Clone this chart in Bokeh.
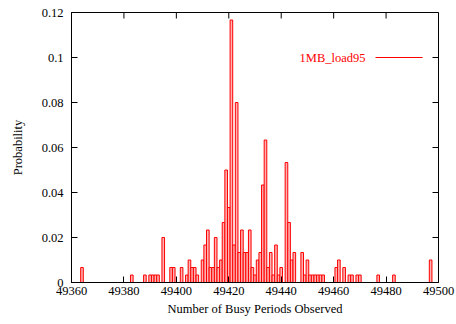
from bokeh.plotting import figure
from bokeh.models import (Range1d, SingleIntervalTicker, CustomJSTickFormatter,
                          Label, BoxAnnotation, ColumnDataSource)
from bokeh.embed import file_html
from bokeh.resources import INLINE

# Observed busy-period counts and how many runs gave each count
busy_periods = [49364, 49383, 49388, 49390, 49391, 49392, 49393, 49395,
                49398, 49399, 49402, 49404, 49405, 49406, 49407, 49408,
                49410, 49411, 49412, 49413, 49414, 49415, 49416, 49417,
                49418, 49419, 49420, 49421, 49422, 49423, 49424, 49425,
                49426, 49427, 49428, 49429, 49430, 49431, 49432, 49433,
                49434, 49435, 49436, 49437, 49438, 49439, 49440, 49442,
                49443, 49444, 49445, 49448, 49449, 49450, 49451, 49452,
                49453, 49454, 49455, 49456, 49461, 49462, 49464, 49466,
                49467, 49469, 49470, 49477, 49483, 49497]
runs = [2, 1, 1, 1, 1, 1, 1, 6,
        2, 2, 2, 1, 3, 2, 2, 1,
        3, 5, 7, 2, 2, 6, 2, 3,
        8, 15, 10, 35, 5, 24, 4, 7,
        4, 4, 7, 2, 1, 3, 4, 13,
        19, 2, 4, 1, 5, 1, 2, 16,
        8, 3, 4, 4, 1, 3, 1, 1,
        1, 1, 1, 1, 2, 3, 2, 1,
        1, 1, 1, 1, 1, 3]
total_runs = 300
series_name = "1MB_load95"

x_ticks = [49360, 49380, 49400, 49420, 49440, 49460, 49480, 49500]
y_ticks = [0, 0.02, 0.04, 0.06, 0.08, 0.1, 0.12]

# every bin between the smallest and largest observation, empty ones at zero
lookup = dict(zip(busy_periods, runs))
bins = list(range(min(busy_periods), max(busy_periods) + 1))
prob = [lookup.get(b, 0) / total_runs for b in bins]
src = ColumnDataSource(dict(
    left=[b - 0.5 for b in bins], right=[b + 0.5 for b in bins],
    top=prob, bottom=[0] * len(bins)))

FONT = "Liberation Serif"
W, H = 456, 324
BL, BR, BT, BB = 71, 18, 12, 42
TICK = 6

p = figure(width=W, height=H, output_backend="svg", toolbar_location=None,
           x_range=Range1d(x_ticks[0], x_ticks[-1]),
           y_range=Range1d(y_ticks[0], y_ticks[-1]),
           x_axis_label="Number of Busy Periods Observed",
           y_axis_label="Probability",
           min_border_left=BL, min_border_right=BR,
           min_border_top=BT, min_border_bottom=BB)
p.grid.visible = False
p.background_fill_color = "white"
p.border_fill_color = "white"
p.outline_line_color = "black"
p.outline_line_width = 1

p.quad(left="left", right="right", top="top", bottom="bottom", source=src,
       fill_color="#ffb0b0", line_color="#ff0000", line_width=1)

p.xaxis.ticker = SingleIntervalTicker(interval=20)
p.yaxis.ticker = SingleIntervalTicker(interval=0.02)
p.yaxis.formatter = CustomJSTickFormatter(
    code="return String(parseFloat(tick.toFixed(4)));")

for ax in (p.xaxis[0], p.yaxis[0]):
    ax.major_tick_in = TICK
    ax.major_tick_out = 0
    ax.minor_tick_in = 0
    ax.minor_tick_out = 0
    ax.axis_line_color = "black"
    ax.major_tick_line_color = "black"
    ax.major_label_text_font = FONT
    ax.major_label_text_font_size = "12.5px"
    ax.major_label_text_color = "black"
    ax.axis_label_text_font = FONT
    ax.axis_label_text_font_size = "12.5px"
    ax.axis_label_text_font_style = "normal"
    ax.axis_label_text_color = "black"
p.xaxis.major_label_standoff = 4
p.yaxis.major_label_standoff = 8
p.xaxis.axis_label_standoff = 4
p.yaxis.axis_label_standoff = 14

# mirrored inward tick marks along the top and right borders
x0, x1 = x_ticks[0], x_ticks[-1]
y0, y1 = y_ticks[0], y_ticks[-1]
dx = (x1 - x0) * TICK / (W - BL - BR)
dy = (y1 - y0) * TICK / (H - BT - BB)
p.segment(x0=x_ticks, x1=x_ticks, y0=[y1] * len(x_ticks),
          y1=[y1 - dy] * len(x_ticks), line_color="black", line_width=1)
p.segment(x0=[x1] * len(y_ticks), x1=[x1 - dx] * len(y_ticks),
          y0=y_ticks, y1=y_ticks, line_color="black", line_width=1)

# key: series name followed by a line sample
p.add_layout(Label(x=294, y=225, x_units="screen", y_units="screen",
                   text=series_name, text_align="right",
                   text_baseline="middle", text_font=FONT,
                   text_font_size="12.5px", text_color="#ff0000"))
p.add_layout(BoxAnnotation(left=304, right=351, bottom=224.5, top=225.5,
                           left_units="screen", right_units="screen",
                           bottom_units="screen", top_units="screen",
                           fill_color="#ff0000", fill_alpha=1,
                           line_color=None))

open("out.html", "w").write(file_html(p, INLINE))
